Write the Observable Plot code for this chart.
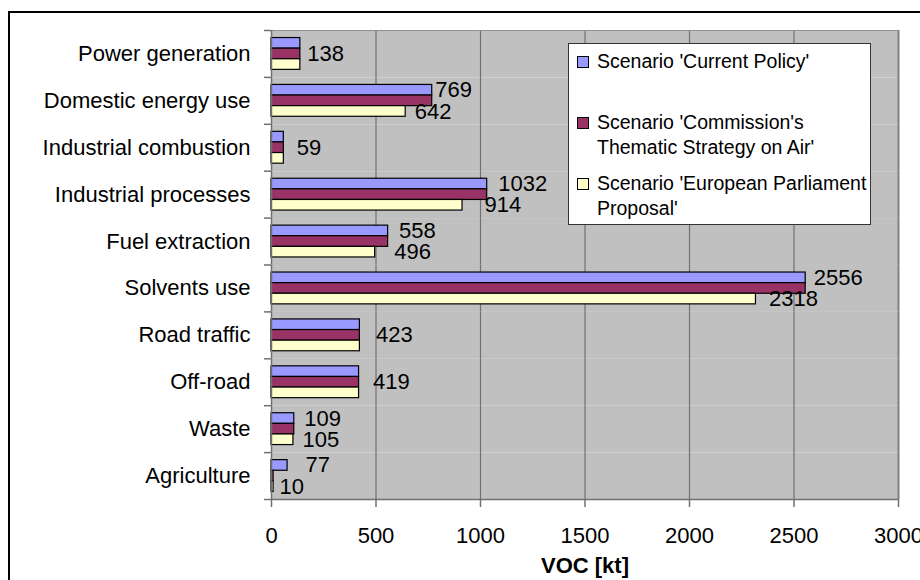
<!DOCTYPE html>
<html>
<head>
<meta charset="utf-8">
<script src="https://cdn.jsdelivr.net/npm/d3@7"></script>
<script src="https://cdn.jsdelivr.net/npm/@observablehq/plot@0.6"></script>
<style>
  body { margin: 0; background: #fff; overflow: hidden; font-family: "Liberation Sans", Arial, sans-serif; }
  #wrap { position: relative; width: 920px; height: 580px; overflow: hidden; }
  #border { position: absolute; left: 8px; top: 11px; width: 1000px; height: 1000px; border: 2px solid #000; pointer-events: none; }
  #chart { position: absolute; left: 0; top: 0; }
  #legend { position: absolute; left: 568px; top: 43px; width: 301px; height: 180px; background: #fff; border: 1px solid #333; }
  .item { position: absolute; left: 8px; display: flex; align-items: flex-start; }
  .sw { width: 10px; height: 10px; border: 1px solid #000; margin-top: 7px; margin-right: 8px; flex: none; }
  .lab { width: 280px; font-size: 19.5px; line-height: 25px; color: #000; }
  g[aria-label="x-axis label"] text { font-weight: bold; }
</style>
</head>
<body>
<div id="wrap">
  <div id="chart"></div>
  <div id="legend"></div>
  <div id="border"></div>
</div>
<script>
// VOC emissions by sector under three scenarios (kt)
const categories = [
  "Power generation", "Domestic energy use", "Industrial combustion", "Industrial processes",
  "Fuel extraction", "Solvents use", "Road traffic", "Off-road", "Waste", "Agriculture"
];
const series = [
  "Scenario 'Current Policy'",
  "Scenario 'Commission's Thematic Strategy on Air'",
  "Scenario 'European Parliament Proposal'"
];
const currentPolicy = [138, 769, 59, 1032, 558, 2556, 423, 419, 109, 77];
const commissionStrategy = [138, 769, 59, 1032, 558, 2556, 423, 419, 109, 10];
const parliamentProposal = [138, 642, 59, 914, 496, 2318, 423, 419, 105, 10];
const xTicks = [0, 500, 1000, 1500, 2000, 2500, 3000];

// which series carries the value label in each sector
const labelSeries = [[1], [0, 2], [1], [0, 2], [0, 2], [0, 2], [1], [1], [0, 2], [0, 2]];
// horizontal nudge of each value label (px)
const labelNudge = [[7], [3, 9], [13], [11, 22], [11, 19], [8, 13], [16], [14], [10, 9], [18, 6]];

const seriesColors = ["#9999ff", "#993366", "#ffffcc"];
const values = [currentPolicy, commissionStrategy, parliamentProposal];

const rows = categories.flatMap((c, i) =>
  series.map((s, j) => ({category: c, series: s, value: values[j][i]})));

const W = 920, H = 580, mL = 271, mR = 22, mT = 30, mB = 81;
const band = (H - mT - mB) / categories.length;
const font = "Liberation Sans, Arial, sans-serif";

const labelMarks = categories.flatMap((c, i) =>
  labelSeries[i].map((j, k) => Plot.text(
    [{category: c, series: series[j], value: values[j][i]}],
    {x: "value", y: "series", fy: "category", text: d => String(d.value),
     textAnchor: "start", dx: labelNudge[i][k], fontSize: 22, fill: "#000"})));

const chart = Plot.plot({
  width: W, height: H,
  marginLeft: mL, marginRight: mR, marginTop: mT, marginBottom: mB,
  style: {fontFamily: font, fontSize: "22px", color: "#000", background: "transparent", overflow: "visible"},
  x: {domain: [0, 3000]},
  y: {domain: series, paddingInner: 0, paddingOuter: 0.71, round: false, axis: null},
  fy: {domain: categories, padding: 0, round: false},
  color: {domain: series, range: seriesColors},
  marks: [
    Plot.frame({fill: "#c0c0c0"}),
    Plot.gridX({ticks: xTicks.slice(1, -1), stroke: "#707070", strokeOpacity: 1, strokeWidth: 1.2}),
    Plot.ruleX([3000], {stroke: "#808080", strokeWidth: 2}),
    Plot.gridFy({ticks: [categories[0]], dy: -band / 2, stroke: "#909090", strokeOpacity: 1, strokeWidth: 1}),
    Plot.barX(rows, {x: "value", y: "series", fy: "category", fill: "series", stroke: "#000", strokeWidth: 1.2}),
    Plot.ruleX([0], {stroke: "#707070", strokeWidth: 1.5}),
    Plot.gridFy({ticks: [categories[categories.length - 1]], dy: band / 2, stroke: "#707070", strokeOpacity: 1, strokeWidth: 1.5}),
    Plot.axisFy({anchor: "left", tickSize: 0, tickPadding: 21, fontSize: 22, label: null}),
    Plot.axisFy({anchor: "left", tickSize: 7, tickFormat: () => "", dy: -band / 2, stroke: "#707070", strokeWidth: 1.5, label: null}),
    Plot.axisFy({anchor: "left", ticks: [categories[categories.length - 1]], tickSize: 7, tickFormat: () => "", dy: band / 2, stroke: "#707070", strokeWidth: 1.5, label: null}),
    Plot.axisX({anchor: "bottom", ticks: xTicks, tickFormat: d => String(d), tickSize: 8, tickPadding: 20, fontSize: 22,
      stroke: "#707070", strokeWidth: 1.5, label: "VOC [kt]", labelArrow: "none", labelAnchor: "center", labelOffset: 73}),
    ...labelMarks
  ]
});
document.getElementById("chart").appendChild(chart);

// legend box
const legend = document.getElementById("legend");
const itemTops = [5, 66, 127];
series.forEach((s, j) => {
  const item = document.createElement("div");
  item.className = "item";
  item.style.top = itemTops[j] + "px";
  const sw = document.createElement("div");
  sw.className = "sw";
  sw.style.background = seriesColors[j];
  const lab = document.createElement("div");
  lab.className = "lab";
  lab.textContent = s;
  item.appendChild(sw);
  item.appendChild(lab);
  legend.appendChild(item);
});
</script>
</body>
</html>
